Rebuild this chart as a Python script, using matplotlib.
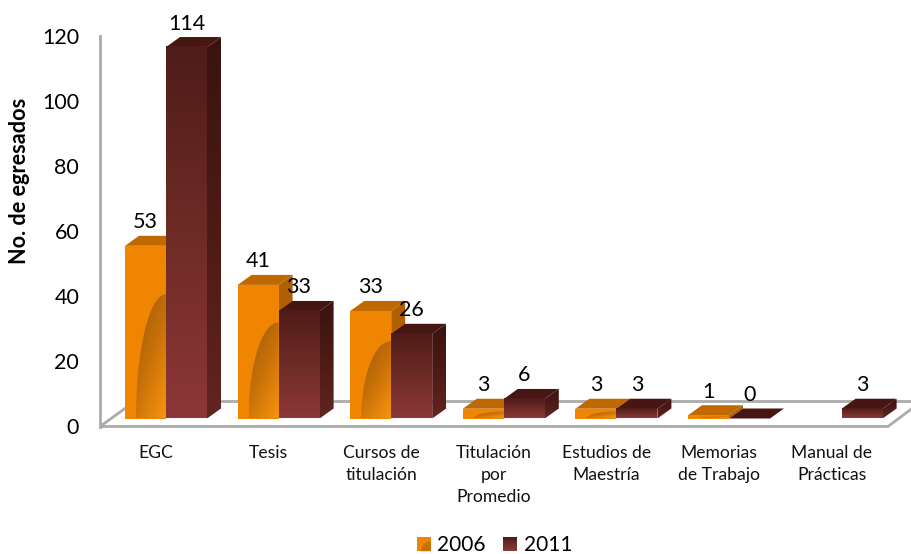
import numpy as np
import matplotlib
matplotlib.use("Agg")
import matplotlib.pyplot as plt
from matplotlib.colors import LinearSegmentedColormap
from matplotlib.legend_handler import HandlerBase
from matplotlib.patches import Patch, PathPatch, Polygon, Rectangle
from matplotlib.path import Path

categories = ["EGC", "Tesis", "Cursos de\ntitulación", "Titulación\npor\nPromedio",
              "Estudios de\nMaestría", "Memorias\nde Trabajo", "Manual de\nPrácticas"]
values_2006 = [53, 41, 33, 3, 3, 1, None]
values_2011 = [114, 33, 26, 6, 3, 0, 3]
yticks = [0, 20, 40, 60, 80, 100, 120]

plt.rcParams['font.family'] = ['Lato', 'DejaVu Sans']

W, H = 912, 554
fig = plt.figure(figsize=(W / 100, H / 100), dpi=100)
# axes span: y 0..120 sits on the wall axis, px 426 up to px 35
ax = fig.add_axes([100 / W, 1 - 426.5 / H, (W - 100) / W, (426 - 35) / H])
PX_X = 112.6
PX_Y = (426 - 35) / 120

bar_w = 41 / PX_X
dep_x = 14 / PX_X
dep_y = 10 / PX_Y
base = 8 / PX_Y  # front of the floor, bars stand a bit above the axis zero

orange_cmap = LinearSegmentedColormap.from_list("o", ["#9c5a08", "#c87008", "#f79410"])
red_cmap = LinearSegmentedColormap.from_list("r", ["#501c18", "#6e2b26", "#8c3737"])
side_cmap = LinearSegmentedColormap.from_list("s", ["#3a1310", "#4d1a15", "#622420"])


def xpx(p):
    return (p - 166) / PX_X


def grad(x0, x1, y0, y1, cmap, clip=None, z=3):
    # first row is the top of the face, so dark at the top
    g = np.linspace(0, 1, 64).reshape(-1, 1)
    im = ax.imshow(g, extent=(x0, x1, y0, y1), aspect="auto", cmap=cmap, vmin=0, vmax=1,
                   origin="upper", zorder=z, interpolation="bilinear")
    if clip is not None:
        im.set_clip_path(clip)


def arc_shade(x0, x1, y0, top, z):
    # quarter ellipse shading on the orange front face
    w = x1 - (x0 + 11 / PX_X)
    h = (top - y0) * 0.72
    t = np.linspace(0, np.pi / 2, 40)
    xs = x1 - w * np.cos(t)
    ys = y0 + h * np.sin(t)
    verts = list(zip(xs, ys)) + [(x1, y0), (xs[0], y0)]
    clip = PathPatch(Path(verts), transform=ax.transData, fc="none", ec="none")
    ax.add_patch(clip)
    g = np.outer(np.linspace(0, 1, 48), np.ones(48)) * 0.6 + np.outer(np.ones(48), np.linspace(0, 1, 48)) * 0.4
    im = ax.imshow(g, extent=(xs[0], x1, y0, y0 + h), aspect="auto", cmap=orange_cmap,
                   vmin=0, vmax=1, origin="upper", zorder=z, interpolation="bilinear")
    im.set_clip_path(clip)


def bar_3d(x0, val, front, top_c, side_c, z):
    x1 = x0 + bar_w
    y0, y1 = base, base + val
    ax.add_patch(Polygon([(x0, y1), (x1, y1), (x1 + dep_x, y1 + dep_y), (x0 + dep_x, y1 + dep_y)],
                         fc=top_c, ec="none", zorder=z))
    if val <= 0:
        return
    side_pts = [(x1, y0), (x1 + dep_x, y0 + dep_y), (x1 + dep_x, y1 + dep_y), (x1, y1)]
    if side_c is None:
        side = Polygon(side_pts, fc="none", ec="none", zorder=z)
        ax.add_patch(side)
        grad(x1, x1 + dep_x, y0, y1 + dep_y, side_cmap, side, z)
    else:
        ax.add_patch(Polygon(side_pts, fc=side_c, ec="none", zorder=z))
    if front is None:
        grad(x0, x1, y0, y1, red_cmap, None, z)
    else:
        ax.add_patch(Rectangle((x0, y0), bar_w, val, fc=front, ec="none", zorder=z))
        arc_shade(x0, x1, y0, y1, z + 0.1)


# floor and back line
line = dict(color="#ababab", lw=2, zorder=1, solid_capstyle="butt", clip_on=False)
ax.plot([xpx(100), xpx(888), xpx(912)], [0, 0, 18 / PX_Y], **line)
ax.plot([xpx(100), xpx(136)], [0, 26 / PX_Y], **line)
ax.plot([xpx(136), xpx(912)], [26 / PX_Y, 26 / PX_Y], **line)

for i in range(len(categories)):
    z = 3 + i
    if values_2006[i] is not None:
        bar_3d(i - bar_w, values_2006[i], "#f08502", "#bf6900", "#b06000", z)
        ax.text(i - bar_w / 2, base + values_2006[i] + 23.5 / PX_Y, str(values_2006[i]),
                ha="center", va="center", fontsize=15.5, color="black", zorder=30)
    bar_3d(i, values_2011[i], None, "#451612", None, z + 0.3)
    ax.text(i + bar_w / 2, base + values_2011[i] + 23.5 / PX_Y, str(values_2011[i]),
            ha="center", va="center", fontsize=15.5, color="black", zorder=30)

ax.set_xlim(xpx(100), xpx(W))
ax.set_ylim(0, 120)

for s in ["top", "right", "bottom"]:
    ax.spines[s].set_visible(False)
ax.spines["left"].set_color("#ababab")
ax.spines["left"].set_linewidth(2)
ax.patch.set_alpha(0)

ax.set_yticks(yticks)
ax.tick_params(axis="y", length=0, pad=15, labelsize=15.5, labelcolor="black")
ax.set_xticks([i - 10 / PX_X for i in range(len(categories))])
ax.set_xticklabels(categories, fontsize=12.6, color="#111111", linespacing=1.47, va="top")
ax.tick_params(axis="x", length=0, pad=13)
ax.set_ylabel("No. de egresados", fontsize=15.6, fontweight="bold", color="black")
ax.yaxis.set_label_coords(-70 / (W - 100), 0.627)


class BandHandler(HandlerBase):
    # legend swatch as a vertical gradient
    def create_artists(self, legend, orig, xd, yd, w, h, fontsize, trans):
        out = []
        n = 14
        for k in range(n):
            out.append(Rectangle((xd, yd + h * k / n), w, h / n + 0.3, fc=red_cmap(1 - k / (n - 1)),
                                 ec="none", transform=trans))
        return out


class ArcHandler(HandlerBase):
    # legend swatch with the same arc shading as the orange bars
    def create_artists(self, legend, orig, xd, yd, w, h, fontsize, trans):
        t = np.linspace(0, np.pi / 2, 16)
        xs = xd + w - 0.7 * w * np.cos(t)
        ys = yd + 0.7 * h * np.sin(t)
        pts = list(zip(xs, ys)) + [(xd + w, yd)]
        return [Rectangle((xd, yd), w, h, fc="#f08502", ec="none", transform=trans),
                Polygon(pts, fc="#c67208", ec="none", transform=trans)]


h1 = Patch(label="2006")
h2 = Patch(label="2011")
ax.legend(handles=[h1, h2], labels=["2006", "2011"], ncol=2, frameon=False, fontsize=15,
          loc="center", bbox_to_anchor=(494.5 / W, 1 - 545 / H), bbox_transform=fig.transFigure,
          handlelength=0.67, handleheight=0.67, handletextpad=0.3, columnspacing=0.85,
          borderpad=0, borderaxespad=0,
          handler_map={h1: ArcHandler(), h2: BandHandler()})

fig.savefig("out.png", dpi=100)
